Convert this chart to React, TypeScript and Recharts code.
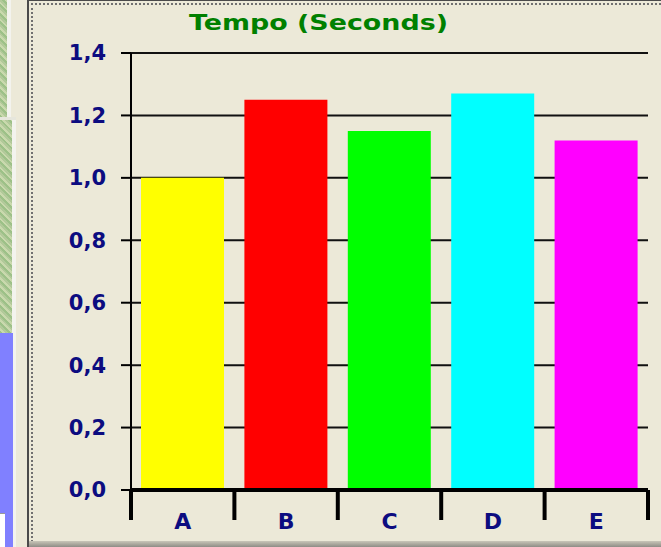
import { BarChart, Bar, XAxis, YAxis, CartesianGrid, Cell } from "recharts";

const categories = ["A", "B", "C", "D", "E"];
const tempo = [1.0, 1.25, 1.15, 1.27, 1.12];
const barColors = ["#ffff00", "#ff0000", "#00ff00", "#00ffff", "#ff00ff"];
const yTicks = [0, 0.2, 0.4, 0.6, 0.8, 1.0, 1.2, 1.4];

const data = categories.map((name, i) => ({ name, tempo: tempo[i] }));

const NAVY = "#0c0c80";
const FONT = "'DejaVu Sans', Verdana, sans-serif";
const texture = "repeating-linear-gradient(45deg, #9dc188 0 2px, #c9d9ad 2px 4px, #b2c99a 4px 6px)";

// label in the middle of the band, thick separators on the band edges
function CategoryTick(props: any) {
  const { x, y, payload, index } = props;
  const half = payload?.offset ?? 0;
  const top = y - 21 - 2;
  const last = index === categories.length - 1;
  return (
    <g>
      <line x1={x - half} x2={x - half} y1={top} y2={top + 30} stroke="#000" strokeWidth={4} />
      {last && <line x1={x + half} x2={x + half} y1={top} y2={top + 30} stroke="#000" strokeWidth={4} />}
      <text x={x} y={y} dy="0.71em" textAnchor="middle" fill={NAVY} fontSize={22} fontWeight="bold" fontFamily={FONT}>
        {payload.value}
      </text>
    </g>
  );
}

export default function App() {
  return (
    <div style={{ position: "absolute", left: 0, top: 0, width: 661, height: 547, background: "#ECE9D8", overflow: "hidden" }}>
      {/* window chrome on the left edge */}
      <div style={{ position: "absolute", left: 0, top: 0, width: 7, height: 117, background: texture }} />
      <div style={{ position: "absolute", left: 7, top: 0, width: 4, height: 117, background: "#f3f3ee" }} />
      <div style={{ position: "absolute", left: 0, top: 117, width: 16, height: 3, background: "#e6e6dc" }} />
      <div style={{ position: "absolute", left: 0, top: 120, width: 12, height: 213, background: texture }} />
      <div style={{ position: "absolute", left: 12, top: 120, width: 4, height: 427, background: "#f3f3ee" }} />
      <div style={{ position: "absolute", left: 0, top: 333, width: 13, height: 214, background: "#8080ff" }} />
      <div style={{ position: "absolute", left: 0, top: 513, width: 5, height: 34, background: "#fff", borderTop: "1px solid #999" }} />
      <div style={{ position: "absolute", left: 27, top: 0, width: 2, height: 547, background: "#4a4a4a" }} />
      <div style={{ position: "absolute", left: 27, top: 0, width: 634, height: 1, background: "#4a4a4a" }} />
      <div style={{ position: "absolute", left: 31, top: 3, width: 640, height: 537, borderLeft: "2px dotted #707070", borderTop: "2px dotted #707070" }} />
      <div style={{ position: "absolute", left: 29, top: 541, width: 632, height: 6, background: "linear-gradient(#c9c6b8, #8f8d86)" }} />

      <div style={{ position: "absolute", left: 0, top: 0 }}>
        <BarChart
          width={661}
          height={547}
          data={data}
          margin={{ top: 53, right: 13, bottom: 0, left: 0 }}
          barCategoryGap={10}
        >
          <CartesianGrid vertical={false} stroke="#111" strokeWidth={2} />
          <XAxis
            dataKey="name"
            height={57}
            interval={0}
            axisLine={{ stroke: "#000", strokeWidth: 4 }}
            tickLine={false}
            tickSize={21}
            tickMargin={2}
            tick={<CategoryTick />}
          />
          <YAxis
            domain={[0, 1.4]}
            ticks={yTicks}
            width={131}
            axisLine={{ stroke: "#000", strokeWidth: 2 }}
            tickLine={{ stroke: "#000", strokeWidth: 2 }}
            tickSize={10}
            tickMargin={15}
            tickFormatter={(v: number) => v.toFixed(1).replace(".", ",")}
            tick={{ fill: NAVY, fontSize: 21, fontWeight: "bold", fontFamily: FONT }}
          />
          <YAxis
            yAxisId="right"
            orientation="right"
            domain={[0, 1.4]}
            width={0}
            tick={false}
            tickLine={false}
            axisLine={{ stroke: "#000", strokeWidth: 2 }}
          />
          <Bar dataKey="tempo" isAnimationActive={false}>
            {data.map((d, i) => (
              <Cell key={d.name} fill={barColors[i]} />
            ))}
          </Bar>
        </BarChart>
      </div>

      <svg width={661} height={547} style={{ position: "absolute", left: 0, top: 0, pointerEvents: "none" }}>
        <text
          x={318.5}
          y={30}
          textAnchor="middle"
          textLength={259}
          lengthAdjust="spacingAndGlyphs"
          fill="#008000"
          fontSize={22}
          fontWeight="bold"
          fontFamily={FONT}
        >
          Tempo (Seconds)
        </text>
      </svg>
    </div>
  );
}
